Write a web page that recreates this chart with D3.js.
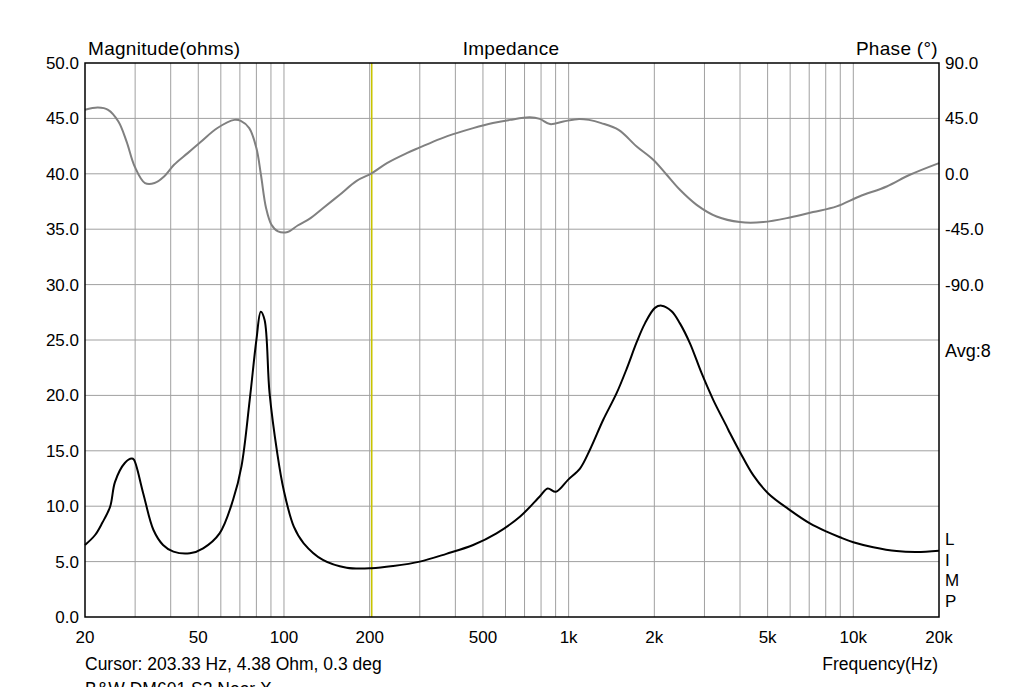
<!DOCTYPE html>
<html>
<head>
<meta charset="utf-8">
<script src="https://cdn.jsdelivr.net/npm/d3@7"></script>
<style>
  body { margin: 0; background: #fff; }
  svg { display: block; font-family: "Liberation Sans", Arial, sans-serif; }
</style>
</head>
<body>
<div id="chart"></div>
<script>
// impedance magnitude (ohms) vs frequency
const magFreq = [20, 21.7, 23, 24.5, 25.5, 27.6, 29.2, 29.7, 32, 34.8, 37.6, 40.9, 46.7, 52, 59.4, 66.3, 70.9, 75.8, 80, 82.9, 85.5, 89, 94.7, 99.7, 108.3, 117.3, 137, 166, 203, 242, 300, 372, 462, 558, 674, 793, 844, 902, 997, 1096, 1188, 1323, 1474, 1599, 1734, 1854, 2010, 2121, 2300, 2460, 2668, 2932, 3220, 3590, 3686, 3996, 4450, 5024, 5990, 7040, 8060, 8970, 10000, 11750, 14190, 16690, 20000];
const magOhm  = [6.5, 7.4, 8.5, 9.95, 12.2, 13.9, 14.3, 14.2, 11.2, 7.85, 6.5, 5.9, 5.75, 6.2, 7.55, 10.6, 13.6, 19.6, 25.0, 27.55, 26.8, 20.2, 14.8, 11.5, 8.15, 6.65, 5.15, 4.45, 4.4, 4.6, 5.0, 5.7, 6.5, 7.55, 9.05, 10.9, 11.6, 11.3, 12.4, 13.4, 15.1, 17.8, 20.2, 22.4, 24.8, 26.5, 27.9, 28.1, 27.6, 26.5, 24.7, 22.0, 19.6, 17.2, 16.6, 14.9, 12.8, 11.15, 9.65, 8.45, 7.7, 7.2, 6.75, 6.3, 5.95, 5.87, 5.98];

// phase (degrees) vs frequency
const phaseFreq = [20, 22.2, 24.1, 26.2, 28, 29.9, 32.5, 35.1, 38, 41.1, 45.9, 51.2, 58.2, 67, 70.5, 75.5, 80, 83, 86.5, 90.4, 95.3, 103, 111.7, 124, 137, 157, 180, 203, 230, 270, 300, 354, 404, 462, 542, 622, 730, 792, 860, 958, 1088, 1178, 1302, 1498, 1734, 1982, 2210, 2460, 2816, 3310, 3996, 4825, 5990, 7220, 8740, 10500, 13100, 15800, 20000];
const phaseDeg  = [52, 53.8, 52, 42.5, 26.2, 5.9, -7.5, -7.5, -2, 7.3, 16.8, 26.2, 37, 43.8, 43, 37.1, 20.9, -0.8, -27.7, -41.4, -46.8, -47.3, -42, -36, -28, -17, -5.7, 0.3, 8.7, 16.8, 21.4, 28.4, 33, 37.1, 41.2, 43.8, 45.9, 44.6, 40.4, 42.5, 44.6, 43.8, 41.2, 35.7, 22.2, 11.4, -0.8, -13, -25.2, -34.7, -39.2, -39.2, -35.5, -31.1, -26.5, -18.4, -10.3, -0.8, 8.7];

const xTicks = [20, 50, 100, 200, 500, 1000, 2000, 5000, 10000, 20000];
const xTickLabels = ["20", "50", "100", "200", "500", "1k", "2k", "5k", "10k", "20k"];
const magTicks = [0, 5, 10, 15, 20, 25, 30, 35, 40, 45, 50];
const phaseTicks = [90, 45, 0, -45, -90];
const cursorFreq = 203.33;

const width = 1024, height = 687;
const m = { top: 63, right: 85, bottom: 70, left: 85 };

const svg = d3.select("#chart").append("svg")
  .attr("width", width).attr("height", height);

const x = d3.scaleLog().domain([20, 20000]).range([m.left, width - m.right]);
const y = d3.scaleLinear().domain([0, 50]).range([height - m.bottom, m.top]);
// phase shares the plot: 90° at top, 45° per 5 ohm
const yP = d3.scaleLinear().domain([-360, 90]).range([height - m.bottom, m.top]);

// grid
const gridFreqs = [];
[10, 100, 1000, 10000].forEach(dec => {
  for (let k = 1; k <= 9; k++) {
    const f = dec * k;
    if (f > 20 && f < 20000) gridFreqs.push(f);
  }
});
svg.append("g").selectAll("line").data(gridFreqs).join("line")
  .attr("x1", d => x(d)).attr("x2", d => x(d))
  .attr("y1", m.top).attr("y2", height - m.bottom)
  .attr("stroke", "#a0a0a0").attr("stroke-width", 1);
svg.append("g").selectAll("line").data(magTicks.slice(1, -1)).join("line")
  .attr("x1", m.left).attr("x2", width - m.right)
  .attr("y1", d => y(d)).attr("y2", d => y(d))
  .attr("stroke", "#a0a0a0").attr("stroke-width", 1);

// cursor
svg.append("line")
  .attr("x1", x(cursorFreq)).attr("x2", x(cursorFreq))
  .attr("y1", m.top).attr("y2", height - m.bottom)
  .attr("stroke", "#c8c400").attr("stroke-width", 1.6);

// curves
const phaseLine = d3.line()
  .x(i => x(phaseFreq[i])).y(i => yP(phaseDeg[i]))
  .curve(d3.curveCatmullRom.alpha(0.5));
svg.append("path")
  .attr("d", phaseLine(d3.range(phaseFreq.length)))
  .attr("fill", "none").attr("stroke", "#808080").attr("stroke-width", 2);

const magLine = d3.line()
  .x(i => x(magFreq[i])).y(i => y(magOhm[i]))
  .curve(d3.curveCatmullRom.alpha(0.5));
svg.append("path")
  .attr("d", magLine(d3.range(magFreq.length)))
  .attr("fill", "none").attr("stroke", "#000").attr("stroke-width", 2);

// frame
svg.append("rect")
  .attr("x", m.left).attr("y", m.top)
  .attr("width", width - m.left - m.right).attr("height", height - m.top - m.bottom)
  .attr("fill", "none").attr("stroke", "#000").attr("stroke-width", 1.5);

const fsTick = "17px", fsTitle = "19px", fsText = "17.5px";

// left ticks
svg.append("g").selectAll("text").data(magTicks).join("text")
  .attr("x", m.left - 6).attr("y", d => y(d)).attr("dy", "0.35em")
  .attr("text-anchor", "end").style("font-size", fsTick)
  .text(d => d.toFixed(1));

// right ticks
svg.append("g").selectAll("text").data(phaseTicks).join("text")
  .attr("x", width - m.right + 6).attr("y", d => yP(d)).attr("dy", "0.35em")
  .style("font-size", fsTick)
  .text(d => d.toFixed(1));

// bottom ticks
svg.append("g").selectAll("text").data(xTicks).join("text")
  .attr("x", d => x(d)).attr("y", 643)
  .attr("text-anchor", "middle").style("font-size", fsTick)
  .text((d, i) => xTickLabels[i]);

// titles
const title = (tx, anchor, s) => svg.append("text").attr("x", tx).attr("y", 55)
  .attr("text-anchor", anchor).style("font-size", fsTitle).style("letter-spacing", "0.3px").text(s);
title(88, "start", "Magnitude(ohms)");
title(511, "middle", "Impedance");
title(938, "end", "Phase (°)");

svg.append("text").attr("x", 945).attr("y", 357).style("font-size", "18px").text("Avg:8");
["L", "I", "M", "P"].forEach((c, i) => {
  svg.append("text").attr("x", 945).attr("y", 545 + i * 20.7).style("font-size", fsTick).text(c);
});
svg.append("text").attr("x", 85).attr("y", 670).style("font-size", fsText).text("Cursor: 203.33 Hz, 4.38 Ohm, 0.3 deg");
svg.append("text").attr("x", 938).attr("y", 670).attr("text-anchor", "end").style("font-size", fsText).text("Frequency(Hz)");
svg.append("text").attr("x", 85).attr("y", 695).style("font-size", fsText).text("B&W DM601 S2 Near X");
</script>
</body>
</html>
